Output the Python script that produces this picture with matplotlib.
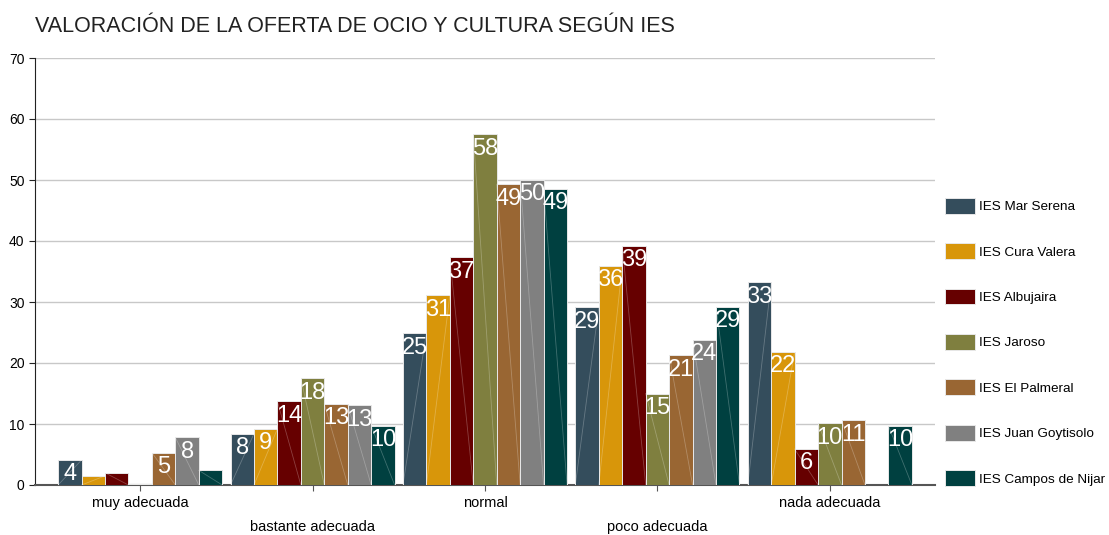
import matplotlib
matplotlib.use('Agg')
import matplotlib.pyplot as plt
import numpy as np

plt.rcParams['font.family'] = ['Liberation Sans', 'DejaVu Sans']

categories = ['muy adecuada', 'bastante adecuada', 'normal', 'poco adecuada', 'nada adecuada']
schools = ['IES Mar Serena', 'IES Cura Valera', 'IES Albujaira', 'IES Jaroso',
           'IES El Palmeral', 'IES Juan Goytisolo', 'IES Campos de Nijar']

mar_serena = [4.1, 8.4, 24.9, 29.1, 33.2]
cura_valera = [1.5, 9.2, 31.1, 35.9, 21.8]
albujaira = [2.0, 13.7, 37.3, 39.2, 5.9]
jaroso = [0.2, 17.5, 57.5, 15.0, 10.1]
el_palmeral = [5.3, 13.3, 49.3, 21.3, 10.6]
juan_goytisolo = [7.8, 13.1, 50.0, 23.8, 0.0]
campos_nijar = [2.4, 9.7, 48.6, 29.2, 9.7]

series = [mar_serena, cura_valera, albujaira, jaroso, el_palmeral, juan_goytisolo, campos_nijar]
colors = ['#344d5c', '#d8960a', '#660000', '#7f7f3f', '#996633', '#808080', '#004040']
diag = ['/', '/', '\\', '\\', '\\', '\\', '\\']

fig = plt.figure(figsize=(11.09, 5.35), dpi=100)
ax = fig.add_axes([35/1109, 50/535, 900/1109, 427/535])

x = np.arange(len(categories))
w = 0.136
for i, vals in enumerate(series):
    pos = x + (i - 3) * w
    bars = ax.bar(pos, vals, w, color=colors[i], edgecolor='#e8e8e8', linewidth=0.7,
                  label=schools[i], zorder=3)
    for b, v in zip(bars, vals):
        bx, by, bw, bh = b.get_x(), b.get_y(), b.get_width(), b.get_height()
        if bh <= 0:
            continue
        # faint corner-to-corner streak seen on every bar
        if diag[i] == '/':
            ax.plot([bx, bx + bw], [by, by + bh], color='white', alpha=0.25, lw=0.6, zorder=4)
        else:
            ax.plot([bx, bx + bw], [by + bh, by], color='white', alpha=0.25, lw=0.6, zorder=4)
        if v >= 3:
            ax.annotate('%d' % round(v), (bx + bw / 2, by + bh), xytext=(0, -2.5),
                        textcoords='offset points', ha='center', va='top',
                        color='white', fontsize=17, zorder=5)

ax.set_xlim(-0.61, 4.61)
ax.set_ylim(0, 70)
ax.set_yticks(range(0, 71, 10))
ax.yaxis.grid(True, color='#c8c8c8', lw=1, zorder=0)
ax.set_axisbelow(True)
ax.set_xticks(x)
ax.set_xticklabels(categories, fontsize=10.5)
for i, t in enumerate(ax.xaxis.get_major_ticks()):
    t.set_pad(4 if i % 2 == 0 else 21)
ax.tick_params(axis='x', length=4, color='#555555')
ax.tick_params(axis='y', length=4, labelsize=10, color='#222222')
for s in ['top', 'right']:
    ax.spines[s].set_visible(False)
ax.spines['left'].set_color('#222222')
ax.spines['bottom'].set_color('#555555')
ax.spines['bottom'].set_linewidth(1.5)

fig.text(35/1109, 1 - 27/535, 'VALORACIÓN DE LA OFERTA DE OCIO Y CULTURA SEGÚN IES',
         fontsize=15.5, va='center', ha='left', color='#222222')

fig.legend(loc='upper left', bbox_to_anchor=(945/1109, 1 - 198/535), frameon=False,
           fontsize=9.7, handlelength=2.2, handleheight=1.42, labelspacing=2.2,
           handletextpad=0.35, borderpad=0, borderaxespad=0)

fig.savefig('out.png', dpi=100)
